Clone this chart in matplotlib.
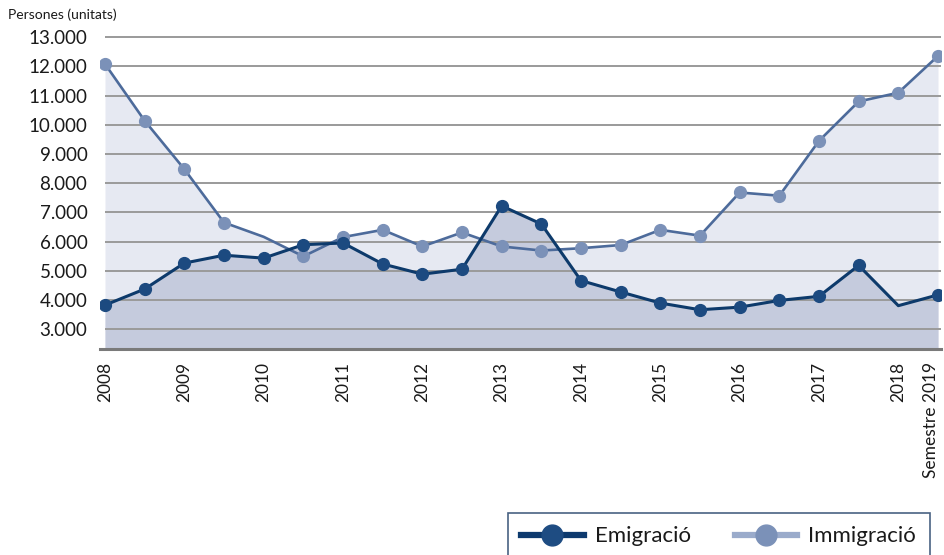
import matplotlib
matplotlib.use("Agg")
import matplotlib.pyplot as plt
import matplotlib.transforms as mtransforms
from matplotlib.lines import Line2D

plt.rcParams['font.family'] = ['Lato', 'DejaVu Sans']

# ---- data ----
tick_labels = ["2008", "2009", "2010", "2011", "2012", "2013", "2014",
               "2015", "2016", "2017", "2018", "Semestre 2019"]
tick_index = [0, 2, 4, 6, 8, 10, 12, 14, 16, 18, 20, 21]
emigracio = [3820, 4370, 5260, 5530, 5430, 5890, 5950, 5230, 4880, 5050, 7220,
             6600, 4660, 4270, 3890, 3660, 3750, 3980, 4120, 5180, 3800, 4170]
immigracio = [12085, 10140, 8480, 6650, 6160, 5490, 6150, 6400, 5830, 6310, 5830,
              5690, 5770, 5880, 6400, 6200, 7680, 7570, 9450, 10800, 11100, 12360]
y_ticks = [3000, 4000, 5000, 6000, 7000, 8000, 9000, 10000, 11000, 12000, 13000]
y_tick_labels = ["3.000", "4.000", "5.000", "6.000", "7.000", "8.000", "9.000",
                 "10.000", "11.000", "12.000", "13.000"]
emi_no_marker = [20]
imm_no_marker = [4]

x = list(range(len(emigracio)))

W, H = 944, 555
fig = plt.figure(figsize=(W / 100, H / 100), dpi=100)
ax = fig.add_axes([100 / W, 1 - 349 / H, 841 / W, (349 - 37.3) / H])

ymin, ymax = 2315, 13000
ax.set_ylim(ymin, ymax)
ax.set_xlim(-5 / 39.67, 21 + 3 / 39.67)

# fills
ax.fill_between(x, immigracio, ymin, color="#e6e9f2", lw=0, zorder=1)
ax.fill_between(x, emigracio, ymin, color="#c5cbdd", lw=0, zorder=1.5)

# grid lines
ax.hlines(y_ticks, 0, 21 + 3 / 39.67, colors="#9a9a9a", lw=1.4, zorder=2,
          clip_on=False)

# lines
emi_marks = [i for i in x if i not in emi_no_marker]
imm_marks = [i for i in x if i not in imm_no_marker]
ax.plot(x, immigracio, color="#4d6b9b", lw=1.9, zorder=3,
        marker="o", markersize=8.5, markerfacecolor="#7b91b8",
        markeredgecolor="#7b91b8", markevery=imm_marks)
ax.plot(x, emigracio, color="#0d3a6b", lw=2.2, zorder=4,
        marker="o", markersize=8.5, markerfacecolor="#1c4a80",
        markeredgecolor="#1c4a80", markevery=emi_marks)

# axes styling
for s in ["top", "right", "left"]:
    ax.spines[s].set_visible(False)
ax.spines["bottom"].set_color("#7a7a7a")
ax.spines["bottom"].set_linewidth(2.2)
ax.spines["bottom"].set_zorder(5)

ax.set_yticks(y_ticks)
ax.set_yticklabels(y_tick_labels)
ax.tick_params(axis="y", length=0, pad=9, labelsize=13.5, labelcolor="#1a1a1a")
ax.set_xticks(tick_index)
ax.set_xticklabels(tick_labels, rotation=90, va="top", ha="center")
ax.tick_params(axis="x", length=0, pad=9, labelsize=12.5, labelcolor="#1a1a1a")
last = ax.get_xticklabels()[-1]
last.set_transform(last.get_transform() +
                   mtransforms.ScaledTranslation(-7 / 100, 0, fig.dpi_scale_trans))

fig.text(8 / W, 1 - 15 / H, "Persones (unitats)", fontsize=10, color="#1a1a1a",
         va="center", ha="left")

handles = [
    Line2D([], [], color="#0d3a6e", lw=4.5, marker="o", markersize=15,
           markerfacecolor="#1e4c82", markeredgecolor="#1e4c82"),
    Line2D([], [], color="#9aabcb", lw=4.5, marker="o", markersize=15,
           markerfacecolor="#7b91b8", markeredgecolor="#7b91b8"),
]
leg = fig.legend(handles, ["Emigració", "Immigració"], ncol=2,
                 loc="upper left", bbox_to_anchor=(508 / W, 1 - 513 / H),
                 frameon=True, fancybox=False, fontsize=16,
                 handlelength=2.8, columnspacing=2.0, handletextpad=0.5,
                 borderpad=0.6, borderaxespad=0)
leg.get_frame().set_edgecolor("#1b3a63")
leg.get_frame().set_linewidth(1.2)
for t in leg.get_texts():
    t.set_color("#1a1a1a")

fig.savefig("out.png", dpi=100)
